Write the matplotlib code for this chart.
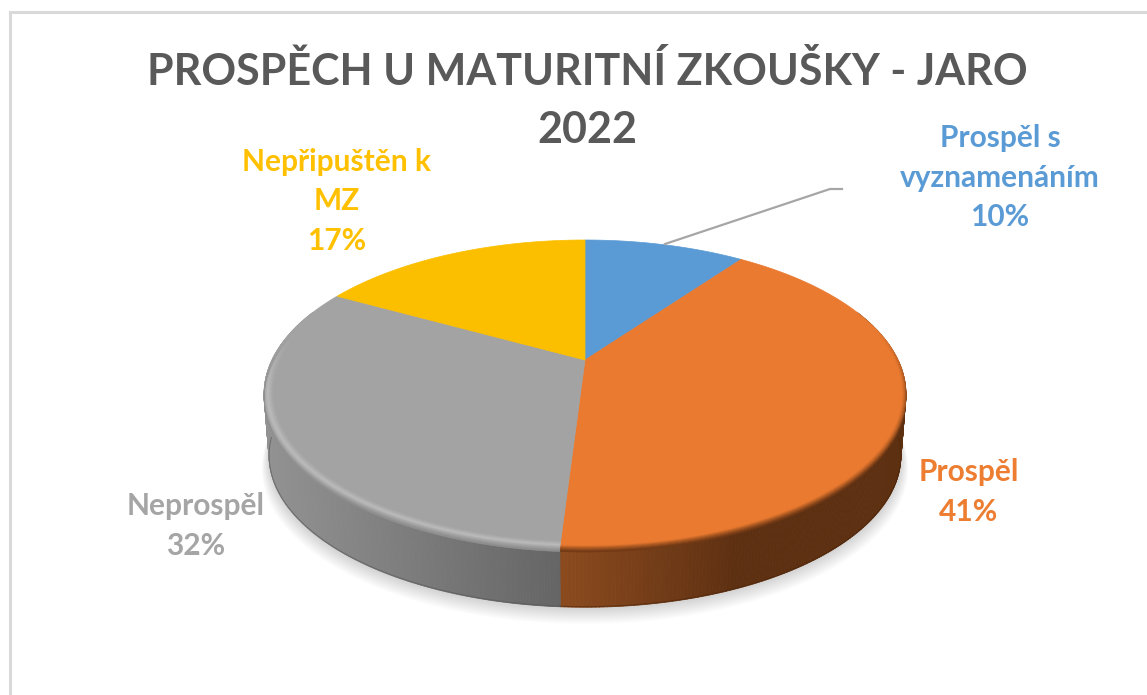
import numpy as np
import matplotlib
matplotlib.use("Agg")
import matplotlib.pyplot as plt
from matplotlib.collections import PolyCollection
from matplotlib.colors import to_rgb
from matplotlib.patches import Polygon

plt.rcParams['font.family'] = ['Lato', 'DejaVu Sans']

TITLE = "PROSPĚCH U MATURITNÍ ZKOUŠKY - JARO\n2022"
categories = ["Prospěl s\nvyznamenáním", "Prospěl", "Neprospěl", "Nepřipuštěn k\nMZ"]
values = [10, 41, 32, 17]
colors = ["#5B9BD5", "#E97A30", "#A3A3A3", "#FBBF00"]
label_colors = ["#5B9BD5", "#ED7D31", "#A5A5A5", "#FFC000"]
label_pos = [(1000, 178), (969, 492), (196, 526), (337, 201)]

CX, CY, K, B, A, DEPTH = 585.0, 360.0, 0.2208, 146.5, 313.0, 60.0


def project(theta, r=1.0, dy=0.0):
    """theta clockwise from top (radians), homography of the disk to the screen."""
    x = r * np.sin(theta)
    y = r * np.cos(theta)
    d = 1 + K * y
    return CX + A * x / d, CY - B * y / d + dy


def bottom(theta, grow=1.0, dy=DEPTH):
    return project(theta, 0.985 * grow, dy + 0.015 * 188 * grow)


def mix(c1, c2, t):
    c1, c2 = np.array(to_rgb(c1)), np.array(to_rgb(c2))
    return tuple(c1 + (c2 - c1) * t)


fig = plt.figure(figsize=(11.47, 6.95), dpi=100, facecolor="white")
ax = fig.add_axes([0, 0, 1, 1])
ax.set_xlim(0, 1147)
ax.set_ylim(695, 0)
ax.axis("off")

# chart frame
ax.plot([9.5, 9.5, 1147], [695, 11.5, 11.5], color="#D9D9D9", lw=2.2, zorder=1,
        solid_joinstyle="miter")

# soft shadow under the pie
t_all = np.linspace(0, 2 * np.pi, 361)
for i in range(14):
    g = 1.0 + 0.0016 * (14 - i)
    sx, sy = bottom(t_all, grow=g, dy=DEPTH + 1.0 + 0.75 * (14 - i))
    ax.add_patch(Polygon(np.c_[sx, sy], closed=True, fc="#000000", ec="none", alpha=0.012, zorder=2))

# slice limits
fracs = np.array(values, dtype=float) / sum(values)
edges = np.concatenate([[0], np.cumsum(fracs)]) * 2 * np.pi

# side wall
side_stops = {
    1: lambda x: mix("#8A4A1E", "#5E3012", np.clip((x - 566) / 170, 0, 1)),
    2: lambda x: mix("#646464", "#929292", np.clip((566 - x) / 300, 0, 1)),
}
for idx, fn in side_stops.items():
    th = np.linspace(edges[idx], edges[idx + 1], 260)
    th = th[(np.cos(th) < 0.35)]
    polys, cols = [], []
    for a, b in zip(th[:-1], th[1:]):
        x1, y1 = project(a)
        x2, y2 = project(b)
        x3, y3 = bottom(b)
        x4, y4 = bottom(a)
        polys.append([(x1, y1), (x2, y2), (x3, y3), (x4, y4)])
        cols.append(fn((x1 + x2) / 2))
    ax.add_collection(PolyCollection(polys, facecolors=cols, edgecolors=cols, linewidths=0.6, zorder=3))

# dark lower lip of the side wall
for idx, dark in ((1, "#4A2408"), (2, "#555555")):
    th = np.linspace(edges[idx], edges[idx + 1], 260)
    th = th[np.cos(th) < -0.1]
    lx, ly = bottom(th, dy=DEPTH - 0.5)
    ax.plot(lx, ly, color=dark, lw=0.8, alpha=0.55, zorder=3.2)

# top faces
for i, (a, b) in enumerate(zip(edges[:-1], edges[1:])):
    th = np.linspace(a, b, 200)
    x, y = project(th)
    ax.add_patch(Polygon(np.r_[[[CX, CY]], np.c_[x, y]], closed=True, fc=colors[i],
                         ec=colors[i], lw=0.5, zorder=4))

# bevel of the front rim
bands = np.linspace(0, 1, 15)


def band_geom(th, t):
    r = 0.972 + 0.028 * np.minimum(t / 0.7, 1.0)
    return project(th, r, 4.0 * np.maximum(t - 0.7, 0) / 0.3)


bevels = {
    1: lambda t: mix("#E97A30", "#6A3614", np.clip((t - 0.45) / 0.55, 0, 1)),
    2: lambda t: mix("#A3A3A3", "#BCBCBC", t / 0.45) if t < 0.45 else mix("#BCBCBC", "#8C8C8C", (t - 0.45) / 0.55),
}
for idx, fn in bevels.items():
    th = np.linspace(edges[idx], edges[idx + 1], 240)
    polys, cols = [], []
    for a, b in zip(th[:-1], th[1:]):
        m = (a + b) / 2
        w = np.clip((0.2 - np.cos(m)) / 0.4, 0, 1)
        if w <= 0:
            continue
        base = to_rgb(colors[idx])
        for t1, t2 in zip(bands[:-1], bands[1:]):
            xa, ya = band_geom(a, t1)
            xb, yb = band_geom(b, t1)
            xc, yc = band_geom(b, t2)
            xd, yd = band_geom(a, t2)
            polys.append([(xa, ya), (xb, yb), (xc, yc), (xd, yd)])
            cols.append(mix(base, fn((t1 + t2) / 2), w))
    ax.add_collection(PolyCollection(polys, facecolors=cols, edgecolors=cols, linewidths=0.4, zorder=5))

# leader line of the first label
ax.plot([665, 830, 842], [244, 189, 189], color="#A6A6A6", lw=1.6, zorder=6, solid_joinstyle="round")

# title
ax.text(587, 100.5, TITLE, ha="center", va="center", fontsize=31.0, fontweight="bold",
        color="#595959", linespacing=1.55, zorder=7)

# data labels
for name, v, c, (lx, ly) in zip(categories, values, label_colors, label_pos):
    ax.text(lx, ly, f"{name}\n{v}%", ha="center", va="center", fontsize=21.5, fontweight="bold",
            color=c, linespacing=1.5, zorder=7)

fig.savefig("out.png", dpi=100, facecolor="white")
